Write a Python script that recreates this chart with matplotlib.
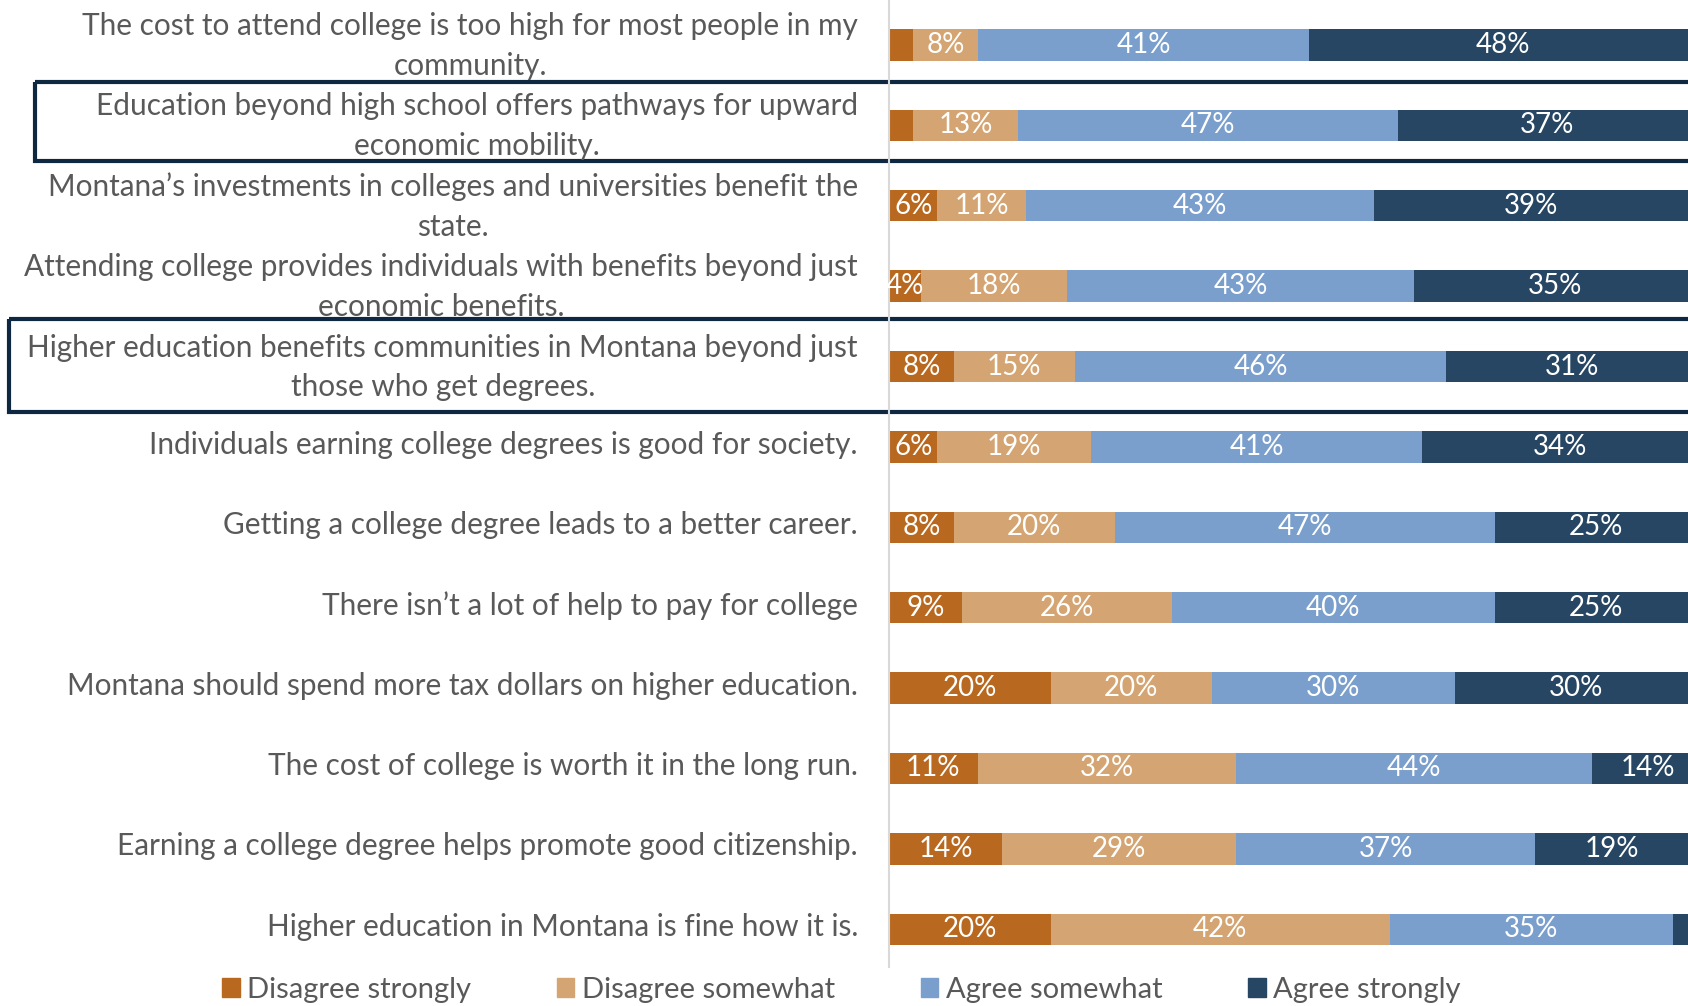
import matplotlib.pyplot as plt
import matplotlib.transforms as mtransforms
from matplotlib.patches import Rectangle, Patch

plt.rcParams['font.family'] = ['Lato', 'DejaVu Sans']

labels = [
    "The cost to attend college is too high for most people in my\ncommunity.",
    "Education beyond high school offers pathways for upward\neconomic mobility.",
    "Montana\u2019s investments in colleges and universities benefit the\nstate.",
    "Attending college provides individuals with benefits beyond just\neconomic benefits.",
    "Higher education benefits communities in Montana beyond just\nthose who get degrees.",
    "Individuals earning college degrees is good for society.",
    "Getting a college degree leads to a better career.",
    "There isn\u2019t a lot of help to pay for college",
    "Montana should spend more tax dollars on higher education.",
    "The cost of college is worth it in the long run.",
    "Earning a college degree helps promote good citizenship.",
    "Higher education in Montana is fine how it is.",
]
disagree_strongly = [3, 3, 6, 4, 8, 6, 8, 9, 20, 11, 14, 20]
disagree_somewhat = [8, 13, 11, 18, 15, 19, 20, 26, 20, 32, 29, 42]
agree_somewhat = [41, 47, 43, 43, 46, 41, 47, 40, 30, 44, 37, 35]
agree_strongly = [48, 37, 39, 35, 31, 34, 25, 25, 30, 14, 19, 3]

series = [
    ("Disagree strongly", disagree_strongly, "#B8691F"),
    ("Disagree somewhat", disagree_somewhat, "#D4A572"),
    ("Agree somewhat", agree_somewhat, "#7B9FCC"),
    ("Agree strongly", agree_strongly, "#264663"),
]
highlighted = [1, 4]

fig = plt.figure(figsize=(16.88, 10.06), dpi=100)
ax = fig.add_axes([889 / 1688, 1 - 967 / 1006, 1 - 889 / 1688, 967 / 1006])

y = list(range(len(labels)))
left = [0] * len(labels)
for name, vals, col in series:
    ax.barh(y, vals, left=left, height=0.39, color=col, label=name)
    for i, v in enumerate(vals):
        if v >= 4:
            ax.text(left[i] + v / 2, i, f"{v}%", ha="center", va="center",
                    color="white", fontsize=20)
    left = [a + b for a, b in zip(left, vals)]

# the right edge of the chart is cut off just before 100%
ax.set_xlim(0, 98.9)
ax.set_ylim(11.47, -0.56)
ax.set_xticks([])
ax.set_yticks([])
for s in ["top", "right", "bottom"]:
    ax.spines[s].set_visible(False)
ax.spines["left"].set_color("#D9D9D9")
ax.spines["left"].set_linewidth(1.5)

trans = mtransforms.blended_transform_factory(fig.transFigure, ax.transData)
for i, lab in enumerate(labels):
    dy = 0.01 if "\n" in lab else -0.03
    fig.text(858 / 1688, i + dy, lab, transform=trans, ha="right", va="center",
             multialignment="center", color="#595959", fontsize=21.4,
             linespacing=1.5)

boxes = {1: (35, -0.54, 0.98), 4: (9, -0.59, 1.15)}
for i in highlighted:
    x0, dy, h = boxes[i]
    ax.add_patch(Rectangle((x0 / 1688, i + dy), 1.1, h, transform=trans,
                           fill=False, edgecolor="#0E2841", linewidth=3,
                           clip_on=False))

handles = [Patch(color=c, label=n) for n, _, c in series]
fig.legend(handles=handles, loc="center left", bbox_to_anchor=(222 / 1688, 1 - 990 / 1006),
           ncol=4, frameon=False, fontsize=21, handlelength=0.6, handleheight=0.6,
           handletextpad=0.25, columnspacing=2.95, labelcolor="#595959",
           borderaxespad=0, borderpad=0)

fig.savefig("out.png", dpi=100)
